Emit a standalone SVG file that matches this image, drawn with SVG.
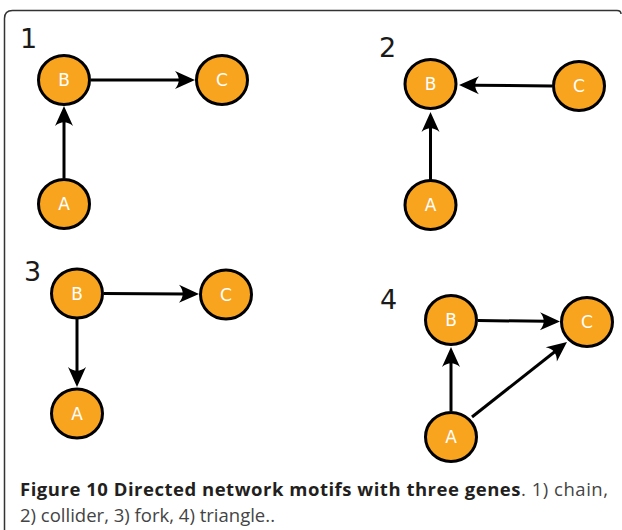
<svg xmlns="http://www.w3.org/2000/svg" width="622" height="530" viewBox="0 0 622 530">
  <style>
    .node ellipse { fill: #F8A41F; stroke: #000; stroke-width: 3; }
    .node text { fill: #fff; font-family: "DejaVu Sans", sans-serif; font-size: 17px; text-anchor: middle; }
    .num { fill: #1a1a1a; font-family: "DejaVu Sans", sans-serif; font-size: 27px; }
    .edge { fill: none; stroke: #000; stroke-width: 3; marker-end: url(#arrow); }
    .cap { font-family: "Open Sans", sans-serif; font-size: 18.5px; fill: #444; }
    .cap .b { font-weight: bold; fill: #231f20; }
  </style>
  <defs>
    <marker id="arrow" markerUnits="userSpaceOnUse" markerWidth="24" markerHeight="22" viewBox="-22 -11 24 22" refX="-14" refY="0" orient="auto">
      <path d="M0,0 L-20,-9 C-15,-3 -15,3 -20,9 Z" fill="#000"/>
    </marker>
  </defs>

  <rect width="622" height="530" fill="#fff"/>
  <!-- figure frame -->
  <path d="M4.5,530 V18.5 Q4.5,10.5 12.5,10.5 H617 Q621,10.5 621,14" fill="none" stroke="#333" stroke-width="1.5"/>

  <!-- panel numbers -->
  <text class="num" x="20" y="48">1</text>
  <text class="num" x="379" y="57">2</text>
  <text class="num" x="24" y="281">3</text>
  <text class="num" x="380" y="309">4</text>

  <g id="connectors">
    <!-- 1) chain -->
    <path class="edge" d="M91,80 H181"/>
    <path class="edge" d="M64,178 V120"/>
    <!-- 2) collider -->
    <path class="edge" d="M552,86 L473,85.2"/>
    <path class="edge" d="M430.5,180 V126"/>
    <!-- 3) fork -->
    <path class="edge" d="M104,293.5 L185,293.9"/>
    <path class="edge" d="M77,319 V373"/>
    <!-- 4) triangle -->
    <path class="edge" d="M478,320.5 L546,321.3"/>
    <path class="edge" d="M451,411 V361"/>
    <path class="edge" d="M472,417 L556,350.7"/>
  </g>

  <!-- 1) chain -->
  <g id="p1-B" class="node"><ellipse cx="64" cy="80" rx="25.5" ry="24.5"/><text x="64" y="86">B</text></g>
  <g id="p1-C" class="node"><ellipse cx="222" cy="80" rx="25.5" ry="24.5"/><text x="222" y="86">C</text></g>
  <g id="p1-A" class="node"><ellipse cx="64" cy="204" rx="25.5" ry="24.5"/><text x="64" y="210">A</text></g>

  <!-- 2) collider -->
  <g id="p2-B" class="node"><ellipse cx="430.5" cy="84" rx="25.5" ry="24.5"/><text x="430.5" y="90">B</text></g>
  <g id="p2-C" class="node"><ellipse cx="579" cy="86" rx="25.5" ry="24.5"/><text x="579" y="92">C</text></g>
  <g id="p2-A" class="node"><ellipse cx="430.5" cy="205" rx="25.5" ry="24.5"/><text x="430.5" y="211">A</text></g>

  <!-- 3) fork -->
  <g id="p3-B" class="node"><ellipse cx="77" cy="293.5" rx="25.5" ry="24.5"/><text x="77" y="299.5">B</text></g>
  <g id="p3-C" class="node"><ellipse cx="226" cy="294.5" rx="25.5" ry="24.5"/><text x="226" y="300.5">C</text></g>
  <g id="p3-A" class="node"><ellipse cx="77" cy="413.5" rx="25.5" ry="24.5"/><text x="77" y="419.5">A</text></g>

  <!-- 4) triangle -->
  <g id="p4-B" class="node"><ellipse cx="451" cy="320" rx="25.5" ry="24.5"/><text x="451" y="326">B</text></g>
  <g id="p4-C" class="node"><ellipse cx="587" cy="322" rx="25.5" ry="24.5"/><text x="587" y="328">C</text></g>
  <g id="p4-A" class="node"><ellipse cx="451" cy="437" rx="25.5" ry="24.5"/><text x="451" y="443">A</text></g>

  <!-- caption -->
  <text class="cap" x="20" y="496" textLength="588" lengthAdjust="spacing"><tspan class="b">Figure 10 Directed network motifs with three genes</tspan>. 1) chain,</text>
  <text class="cap" x="20" y="522" textLength="255" lengthAdjust="spacing">2) collider, 3) fork, 4) triangle..</text>
</svg>
